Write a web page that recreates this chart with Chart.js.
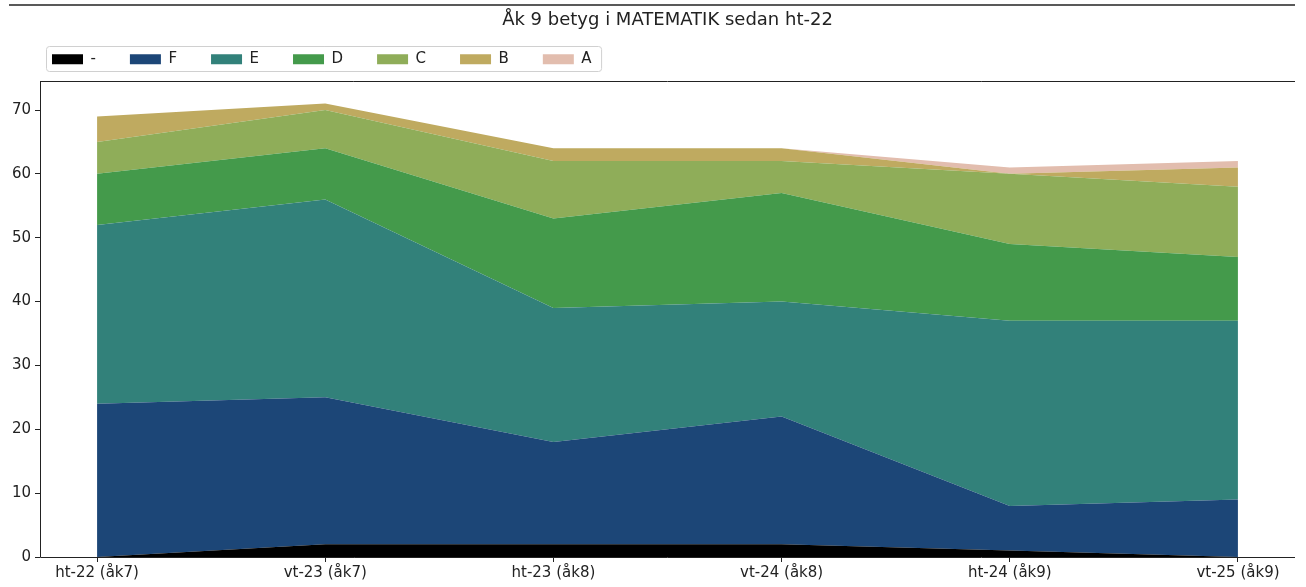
<!DOCTYPE html>
<html>
<head>
<meta charset="utf-8">
<script src="https://cdn.jsdelivr.net/npm/chart.js@4"></script>
<style>
  html, body { margin: 0; padding: 0; background: #fff; }
  #wrap { width: 1306px; height: 587px; }
</style>
</head>
<body>
<div id="wrap"><canvas id="betygChart" width="1306" height="587"></canvas></div>
<script>
// Terminer (x-axeln)
const terminer = ["ht-22 (åk7)", "vt-23 (åk7)", "ht-23 (åk8)", "vt-24 (åk8)", "ht-24 (åk9)", "vt-25 (åk9)"];

// Antal elever per betyg
const betygStreck = [0, 2, 2, 2, 1, 0];
const betygF = [24, 23, 16, 20, 7, 9];
const betygE = [28, 31, 21, 18, 29, 28];
const betygD = [8, 8, 14, 17, 12, 10];
const betygC = [5, 6, 9, 5, 11, 11];
const betygB = [4, 1, 2, 2, 0, 3];
const betygA = [0, 0, 0, 0, 1, 1];

const yTicks = [0, 10, 20, 30, 40, 50, 60, 70];

const serier = [
  { label: "-", data: betygStreck, color: "#000000" },
  { label: "F", data: betygF, color: "#1c4677" },
  { label: "E", data: betygE, color: "#32817a" },
  { label: "D", data: betygD, color: "#449a4b" },
  { label: "C", data: betygC, color: "#8fad59" },
  { label: "B", data: betygB, color: "#bfaa60" },
  { label: "A", data: betygA, color: "#e2bdae" },
];

const Y_TOP = 74.55; // övre kant på ramen (som matplotlib)

// Ram, legendruta och linjen överst
const ramPlugin = {
  id: "ram",
  afterLayout(chart) {
    // flytta legenden lite åt höger
    chart.legend.left += 18;
    chart.legend.right += 18;
  },
  afterDraw(chart) {
    const ctx = chart.ctx;
    const x = chart.scales.x;
    const y = chart.scales.y;
    const left = x.getPixelForValue(-0.25);
    const right = x.getPixelForValue(5.25);
    const top = Math.round(y.getPixelForValue(Y_TOP)) + 0.5;
    const bottom = Math.round(y.getPixelForValue(0)) + 0.5;

    ctx.save();
    ctx.strokeStyle = "#222";
    ctx.lineWidth = 1;
    ctx.beginPath();
    ctx.moveTo(Math.round(left) + 0.5, top);
    ctx.lineTo(Math.round(left) + 0.5, bottom);
    ctx.lineTo(right, bottom);
    ctx.moveTo(left, top);
    ctx.lineTo(right, top);
    ctx.stroke();

    // linjen högst upp
    ctx.lineWidth = 1.5;
    ctx.beginPath();
    ctx.moveTo(9, 5);
    ctx.lineTo(1295, 5);
    ctx.stroke();

    // ruta runt legenden
    const boxes = chart.legend.legendHitBoxes;
    if (boxes && boxes.length) {
      const first = boxes[0];
      const last = boxes[boxes.length - 1];
      const bx = first.left - 5.5;
      const by = 46.5;
      const bw = last.left + last.width + 10 - bx;
      const bh = 25;
      ctx.strokeStyle = "#d0d0d0";
      ctx.lineWidth = 1;
      ctx.beginPath();
      ctx.roundRect(bx, by, bw, bh, 3);
      ctx.stroke();
    }
    ctx.restore();
  },
};

new Chart(document.getElementById("betygChart"), {
  type: "line",
  data: {
    datasets: serier.map((s, i) => ({
      label: s.label,
      data: s.data.map((v, j) => ({ x: j, y: v })),
      backgroundColor: s.color,
      borderColor: s.color,
      borderWidth: 0,
      pointRadius: 0,
      tension: 0,
      fill: i === 0 ? "origin" : "-1",
    })),
  },
  options: {
    responsive: false,
    animation: false,
    layout: { padding: { left: 0, right: 11, top: 0, bottom: 0 } },
    plugins: {
      tooltip: { enabled: false },
      title: {
        display: true,
        fullSize: false,
        text: "Åk 9 betyg i MATEMATIK sedan ht-22",
        color: "#222",
        font: { family: "DejaVu Sans", size: 18, weight: "normal" },
        padding: { top: 9.2, bottom: -13 },
      },
      legend: {
        display: true,
        position: "top",
        align: "start",
        labels: {
          boxWidth: 31,
          boxHeight: 10,
          padding: 34,
          color: "#222",
          font: { family: "DejaVu Sans", size: 15 },
        },
      },
    },
    scales: {
      x: {
        type: "linear",
        min: -0.25,
        max: 5.25,
        afterFit: (scale) => { scale.height = 30; },
        border: { display: false },
        grid: { drawOnChartArea: false, drawTicks: true, tickLength: 5, color: "#222" },
        ticks: {
          stepSize: 1,
          includeBounds: false,
          autoSkip: false,
          maxRotation: 0,
          padding: 2,
          color: "#222",
          font: { family: "DejaVu Sans", size: 15 },
          callback: (v) => (Number.isInteger(v) ? terminer[v] : null),
        },
      },
      y: {
        type: "linear",
        stacked: true,
        min: 0,
        max: 75.2,
        afterFit: (scale) => { scale.width = 40; },
        afterBuildTicks: (scale) => { scale.ticks = yTicks.map((v) => ({ value: v })); },
        border: { display: false },
        grid: { drawOnChartArea: false, drawTicks: true, tickLength: 5, color: "#222" },
        ticks: {
          padding: 4,
          color: "#222",
          font: { family: "DejaVu Sans", size: 15 },
        },
      },
    },
  },
  plugins: [ramPlugin],
});
</script>
</body>
</html>
